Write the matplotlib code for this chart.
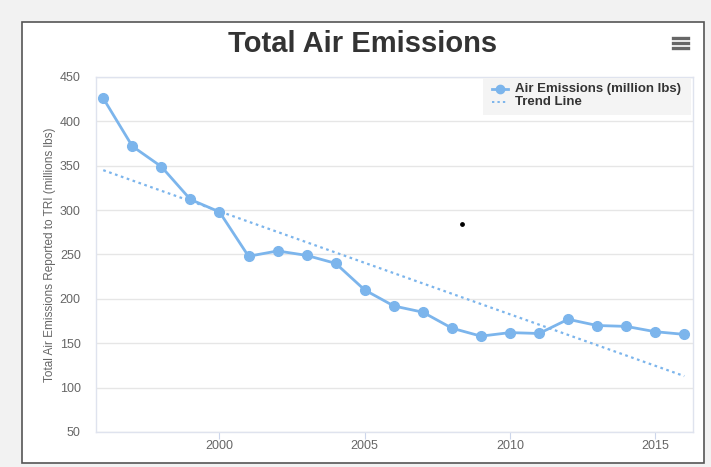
import numpy as np
import matplotlib.pyplot as plt
from matplotlib.patches import Rectangle
from matplotlib.lines import Line2D

# Dados
anos = [1996, 1997, 1998, 1999, 2000, 2001, 2002, 2003, 2004, 2005, 2006,
        2007, 2008, 2009, 2010, 2011, 2012, 2013, 2014, 2015, 2016]
emissoes = [426, 372, 349, 312, 298, 248, 254, 249, 240, 210, 192,
            185, 167, 158, 162, 161, 177, 170, 169, 163, 160]
tendencia_anos = [1996, 2016]
tendencia_valores = [345, 113]
ponto_solto = (2008.35, 284)

AZUL = "#7cb5ec"
CINZA_TXT = "#666666"
W, H = 711, 467

plt.rcParams["font.family"] = "Liberation Sans"

def fx(px):
    return px / W

def fy(py):
    return 1 - py / H

fig = plt.figure(figsize=(W / 100, H / 100), dpi=100, facecolor="#f2f2f2")

# caixa branca do gráfico (atrás de tudo)
fig.patches.append(Rectangle((fx(22), fy(463)), fx(704) - fx(22), fy(22) - fy(463),
                             transform=fig.transFigure, facecolor="white",
                             edgecolor="#555555", linewidth=1.2, zorder=-5))

ax = fig.add_axes([fx(96), fy(432), fx(693) - fx(96), fy(77) - fy(432)])
ax.set_zorder(1)
ax.set_facecolor("white")

ax.plot(anos, emissoes, color=AZUL, linewidth=2, marker="o", markersize=7,
        zorder=4, solid_capstyle="round")
ax.plot(tendencia_anos, tendencia_valores, color=AZUL, linewidth=1.6,
        linestyle=(0, (1.2, 1.6)), zorder=3)
ax.scatter([ponto_solto[0]], [ponto_solto[1]], color="black", s=6, zorder=5)

ax.set_xlim(1995.75, 2016.3)
ax.set_ylim(50, 450)
ax.set_yticks(range(50, 451, 50))
ax.set_xticks([2000, 2005, 2010, 2015])
ax.grid(axis="y", color="#e6e6e6", linewidth=1)
ax.set_axisbelow(True)
for s in ax.spines.values():
    s.set_color("#dfe3ee")
    s.set_linewidth(1)
ax.tick_params(axis="y", length=0, pad=11, labelsize=9, labelcolor=CINZA_TXT)
ax.tick_params(axis="x", length=5, width=0.8, color="#ccd6eb", pad=1,
               labelsize=9, labelcolor=CINZA_TXT)
ax.set_ylabel("Total Air Emissions Reported to TRI (millions lbs)",
              fontsize=8.5, color=CINZA_TXT, labelpad=3)

fig.text(fx(363), fy(44), "Total Air Emissions", ha="center", va="center",
         fontsize=21, fontweight="bold", color="#333333")

# ícone de menu
for dy in (-5, 0, 5):
    fig.add_artist(Line2D([fx(673), fx(688)], [fy(43 + dy), fy(43 + dy)],
                          color=CINZA_TXT, linewidth=2.4))

# legenda (sobre o eixo)
fig.patches.append(Rectangle((fx(483), fy(115)), fx(691) - fx(483), fy(78) - fy(115),
                             transform=fig.transFigure, facecolor="#f4f4f4",
                             edgecolor="none", zorder=10))
fig.add_artist(Line2D([fx(492), fx(500), fx(508)], [fy(89)] * 3, color=AZUL,
                      linewidth=2, marker="o", markersize=6, markevery=[1], zorder=11))
fig.add_artist(Line2D([fx(492), fx(508)], [fy(102), fy(102)], color=AZUL, linewidth=1.4,
                      linestyle=(0, (1.2, 1.6)), zorder=11))
fig.text(fx(515), fy(89), "Air Emissions (million lbs)", ha="left", va="center",
         fontsize=9.5, fontweight="bold", color="#333333", zorder=11)
fig.text(fx(515), fy(102), "Trend Line", ha="left", va="center",
         fontsize=9.5, fontweight="bold", color="#333333", zorder=11)

fig.savefig("out.png", dpi=100, facecolor=fig.get_facecolor())
